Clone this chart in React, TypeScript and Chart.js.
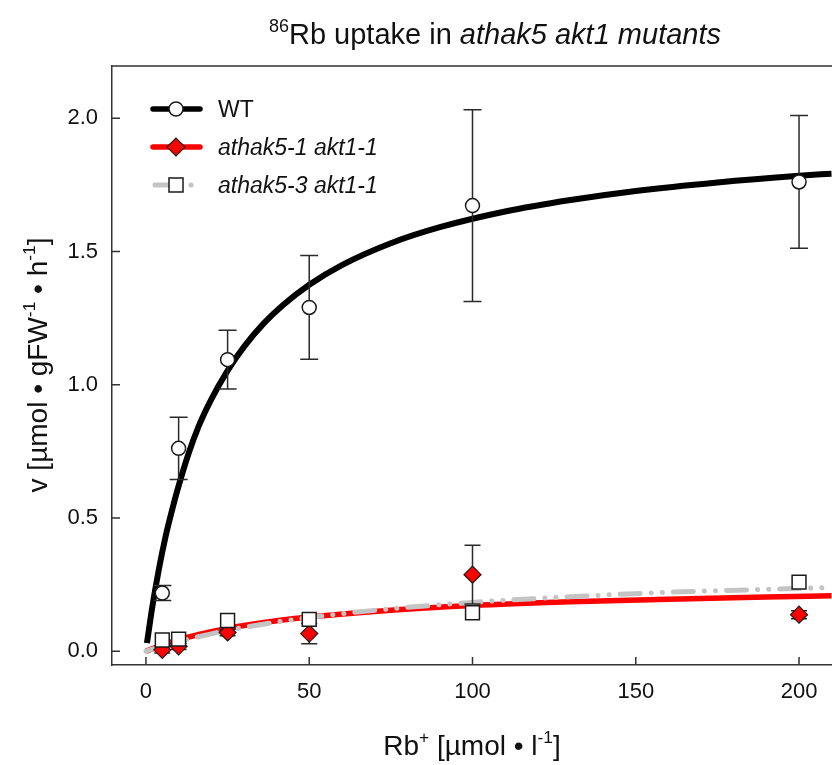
import React, { useEffect, useRef } from "react";
import { Chart, registerables } from "chart.js";

Chart.register(...registerables);

// ---- data ----
const concentrations = [5, 10, 25, 50, 100, 200];
const wtMeans = [0.218, 0.761, 1.094, 1.29, 1.672, 1.761];
const wtErrors = [0.028, 0.117, 0.11, 0.195, 0.36, 0.249];
const mut1Means = [0.005, 0.018, 0.07, 0.066, 0.287, 0.137];
const mut1Errors = [0.012, 0.012, 0.012, 0.038, 0.11, 0.015];
const mut3Means = [0.042, 0.045, 0.115, 0.119, 0.144, 0.259];
const mut3Errors = [0.015, 0.015, 0.022, 0.022, 0.018, 0.022];

const wtFitX = [0.3, 2, 4, 6, 8, 10, 13, 16, 20, 25, 30, 36, 42, 50, 60, 75, 90, 110, 130, 150, 175, 200, 210];
const wtFitY = [0.03, 0.17, 0.31, 0.43, 0.53, 0.62, 0.74, 0.84, 0.945, 1.053, 1.142, 1.229, 1.299, 1.375, 1.449, 1.531, 1.591, 1.65, 1.693, 1.727, 1.759, 1.784, 1.792];
const mut1FitX = [0, 5, 10, 20, 30, 40, 50, 70, 100, 130, 160, 190, 210];
const mut1FitY = [0, 0.023, 0.043, 0.073, 0.096, 0.114, 0.128, 0.149, 0.171, 0.185, 0.195, 0.203, 0.208];
const mut3FitX = [0, 5, 10, 20, 30, 40, 50, 70, 100, 130, 160, 190, 210];
const mut3FitY = [0, 0.019, 0.036, 0.065, 0.089, 0.109, 0.126, 0.153, 0.183, 0.204, 0.221, 0.232, 0.239];

const xTicks = [0, 50, 100, 150, 200];
const yTicks = [0, 0.5, 1.0, 1.5, 2.0];
const xRange = [-10.4, 210];
const yRange = [-0.052, 2.196];

const seriesNames = ["WT", "athak5-1 akt1-1", "athak5-3 akt1-1"];

const FONT = "'Liberation Sans', Arial, Helvetica, sans-serif";
const INK = "#1a1a1a";
const RED = "#ff0000";
const GRAY = "#c4c4c4";
const GRAY_DASH = [20, 11, 0.1, 11, 0.1, 11];

const pts = (xs: number[], ys: number[]) => xs.map((x, i) => ({ x, y: ys[i] }));

type Seg = { t: string; i?: boolean; s?: boolean };

function drawRich(ctx: CanvasRenderingContext2D, segs: Seg[], size: number, cx: number, cy: number, align: "center" | "left" = "center") {
  const fontFor = (sg: Seg) => `${sg.i ? "italic " : ""}${sg.s ? size * 0.62 : size}px ${FONT}`;
  let total = 0;
  const widths = segs.map((sg) => {
    ctx.font = fontFor(sg);
    const w = ctx.measureText(sg.t).width;
    total += w;
    return w;
  });
  let x = align === "center" ? cx - total / 2 : cx;
  ctx.textBaseline = "alphabetic";
  ctx.textAlign = "left";
  const base = cy + size * 0.36;
  segs.forEach((sg, k) => {
    ctx.font = fontFor(sg);
    ctx.fillText(sg.t, x, sg.s ? base - size * 0.42 : base);
    x += widths[k];
  });
}

const errorBarPlugin = {
  id: "errorBars",
  beforeDatasetDraw(chart: any, args: any) {
    const ds = chart.data.datasets[args.index];
    if (!ds.errors) return;
    const ctx = chart.ctx as CanvasRenderingContext2D;
    const ys = chart.scales.y;
    ctx.save();
    ctx.strokeStyle = "#2a2a2a";
    ctx.lineWidth = 1.5;
    args.meta.data.forEach((el: any, i: number) => {
      const v = ds.data[i].y;
      const e = ds.errors[i];
      const top = ys.getPixelForValue(v + e);
      const bot = ys.getPixelForValue(v - e);
      const cap = ds.capHalf;
      ctx.beginPath();
      ctx.moveTo(el.x, top);
      ctx.lineTo(el.x, bot);
      ctx.moveTo(el.x - cap, top);
      ctx.lineTo(el.x + cap, top);
      ctx.moveTo(el.x - cap, bot);
      ctx.lineTo(el.x + cap, bot);
      ctx.stroke();
    });
    ctx.restore();
  },
};

const framePlugin = {
  id: "frame",
  beforeDatasetsDraw(chart: any) {
    const ctx = chart.ctx as CanvasRenderingContext2D;
    const { left, right, top, bottom } = chart.chartArea;
    const xs = chart.scales.x;
    const ys = chart.scales.y;
    ctx.save();
    ctx.strokeStyle = "#333";
    ctx.lineWidth = 1.5;
    ctx.beginPath();
    ctx.moveTo(left, top);
    ctx.lineTo(right + 2, top);
    xTicks.forEach((v) => {
      const px = xs.getPixelForValue(v);
      ctx.moveTo(px, bottom);
      ctx.lineTo(px, bottom - 8);
    });
    yTicks.forEach((v) => {
      const py = ys.getPixelForValue(v);
      ctx.moveTo(left, py);
      ctx.lineTo(left + 8, py);
    });
    ctx.stroke();
    ctx.restore();
  },
};

const textPlugin = {
  id: "texts",
  afterDraw(chart: any) {
    const ctx = chart.ctx as CanvasRenderingContext2D;
    ctx.save();
    ctx.fillStyle = "#111";
    // title
    drawRich(
      ctx,
      [{ t: "86", s: true }, { t: "Rb uptake in " }, { t: "athak5 akt1 mutants", i: true }],
      29,
      495,
      34
    );
    // x title
    drawRich(ctx, [{ t: "Rb" }, { t: "+", s: true }, { t: " [µmol • l" }, { t: "-1", s: true }, { t: "]" }], 28, 472, 745);
    // y title
    ctx.save();
    ctx.translate(37, 365);
    ctx.rotate(-Math.PI / 2);
    drawRich(
      ctx,
      [{ t: "v [µmol • gFW" }, { t: "-1", s: true }, { t: " • h" }, { t: "-1", s: true }, { t: "]" }],
      28,
      0,
      0
    );
    ctx.restore();

    // legend
    const lx0 = 153;
    const lx1 = 200;
    const mx = 176;
    const rows = [109, 147, 185];
    // WT
    ctx.lineCap = "round";
    ctx.strokeStyle = "#000";
    ctx.lineWidth = 5.5;
    ctx.beginPath();
    ctx.moveTo(lx0, rows[0]);
    ctx.lineTo(lx1, rows[0]);
    ctx.stroke();
    ctx.lineWidth = 1.5;
    ctx.strokeStyle = INK;
    ctx.fillStyle = "#fff";
    ctx.beginPath();
    ctx.arc(mx, rows[0], 7, 0, Math.PI * 2);
    ctx.fill();
    ctx.stroke();
    // mutant 1
    ctx.strokeStyle = RED;
    ctx.lineWidth = 5.5;
    ctx.beginPath();
    ctx.moveTo(lx0, rows[1]);
    ctx.lineTo(lx1, rows[1]);
    ctx.stroke();
    ctx.fillStyle = RED;
    ctx.strokeStyle = INK;
    ctx.lineWidth = 1.2;
    ctx.beginPath();
    ctx.moveTo(mx - 9, rows[1]);
    ctx.lineTo(mx, rows[1] - 9);
    ctx.lineTo(mx + 9, rows[1]);
    ctx.lineTo(mx, rows[1] + 9);
    ctx.closePath();
    ctx.fill();
    ctx.stroke();
    // mutant 3
    ctx.strokeStyle = GRAY;
    ctx.lineWidth = 5;
    ctx.beginPath();
    ctx.moveTo(lx0 + 2, rows[2]);
    ctx.lineTo(168, rows[2]);
    ctx.moveTo(191, rows[2]);
    ctx.lineTo(191.1, rows[2]);
    ctx.stroke();
    ctx.fillStyle = "#fff";
    ctx.strokeStyle = INK;
    ctx.lineWidth = 1.5;
    ctx.beginPath();
    ctx.rect(mx - 7, rows[2] - 7, 14, 14);
    ctx.fill();
    ctx.stroke();

    ctx.fillStyle = "#111";
    drawRich(ctx, [{ t: seriesNames[0] }], 23, 218, rows[0], "left");
    drawRich(ctx, [{ t: seriesNames[1], i: true }], 23, 218, rows[1], "left");
    drawRich(ctx, [{ t: seriesNames[2], i: true }], 23, 218, rows[2], "left");
    ctx.restore();
  },
};

const CANVAS_W = 843;
const CANVAS_H = 765;

export default function App() {
  const ref = useRef<HTMLCanvasElement | null>(null);

  useEffect(() => {
    if (!ref.current) return;
    const chart = new Chart(ref.current, {
      type: "scatter",
      data: {
        datasets: [
          {
            label: seriesNames[2] + " points",
            data: pts(concentrations, mut3Means),
            errors: mut3Errors,
            capHalf: 6,
            pointStyle: "rect",
            pointRadius: 9.8,
            pointBackgroundColor: "#fff",
            pointBorderColor: INK,
            pointBorderWidth: 1.5,
            order: 1,
          } as any,
          {
            label: seriesNames[0] + " points",
            data: pts(concentrations, wtMeans),
            errors: wtErrors,
            capHalf: 9,
            pointStyle: "circle",
            pointRadius: 7,
            pointBackgroundColor: "#fff",
            pointBorderColor: INK,
            pointBorderWidth: 1.5,
            order: 2,
          } as any,
          {
            label: seriesNames[1] + " points",
            data: pts(concentrations, mut1Means),
            errors: mut1Errors,
            capHalf: 8,
            pointStyle: "rectRot",
            pointRadius: 8.5,
            pointBackgroundColor: RED,
            pointBorderColor: INK,
            pointBorderWidth: 1.2,
            order: 3,
          } as any,
          {
            label: seriesNames[0] + " fit",
            data: pts(wtFitX, wtFitY),
            showLine: true,
            borderColor: "#000",
            borderWidth: 6,
            pointRadius: 0,
            cubicInterpolationMode: "monotone",
            order: 4,
          } as any,
          {
            label: seriesNames[2] + " fit",
            data: pts(mut3FitX, mut3FitY),
            showLine: true,
            borderColor: GRAY,
            borderWidth: 5,
            borderDash: GRAY_DASH,
            borderCapStyle: "round",
            pointRadius: 0,
            cubicInterpolationMode: "monotone",
            order: 5,
          } as any,
          {
            label: seriesNames[1] + " fit",
            data: pts(mut1FitX, mut1FitY),
            showLine: true,
            borderColor: RED,
            borderWidth: 5.5,
            pointRadius: 0,
            cubicInterpolationMode: "monotone",
            order: 6,
          } as any,
        ],
      },
      options: {
        animation: false,
        responsive: false,
        layout: { padding: { top: 66, left: 0, right: 0, bottom: 0 } },
        plugins: {
          legend: { display: false },
          tooltip: { enabled: false },
          title: { display: false },
        },
        scales: {
          x: {
            type: "linear",
            min: xRange[0],
            max: xRange[1],
            grid: { display: false, drawTicks: false },
            border: { display: true, color: "#333", width: 1.5 },
            ticks: {
              color: "#111",
              font: { family: FONT, size: 22 },
              padding: 14,
              maxRotation: 0,
            },
            afterBuildTicks: (s: any) => {
              s.ticks = xTicks.map((v) => ({ value: v }));
            },
            afterFit: (s: any) => {
              s.height = 100;
            },
          },
          y: {
            type: "linear",
            min: yRange[0],
            max: yRange[1],
            grid: { display: false, drawTicks: false },
            border: { display: true, color: "#333", width: 1.5 },
            ticks: {
              color: "#111",
              font: { family: FONT, size: 22 },
              padding: 14,
              callback: (v: any) => Number(v).toFixed(1),
            },
            afterBuildTicks: (s: any) => {
              s.ticks = yTicks.map((v) => ({ value: v }));
            },
            afterFit: (s: any) => {
              s.width = 112;
            },
          },
        },
      } as any,
      plugins: [framePlugin, errorBarPlugin, textPlugin],
    });
    return () => chart.destroy();
  }, []);

  return (
    <div style={{ position: "absolute", left: 0, top: 0, width: 832, height: 765, background: "#fff", overflow: "hidden" }}>
      <canvas ref={ref} width={CANVAS_W} height={CANVAS_H} style={{ width: CANVAS_W, height: CANVAS_H, display: "block" }} />
    </div>
  );
}
